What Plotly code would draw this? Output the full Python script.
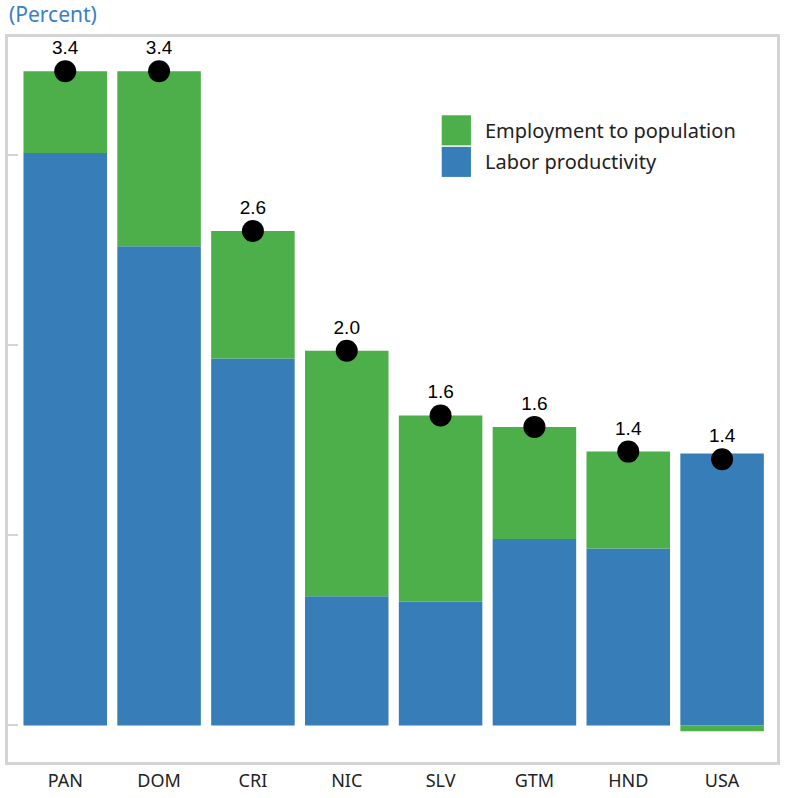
import plotly.graph_objects as go

# Contributions to growth (percent) by country
countries = ["PAN", "DOM", "CRI", "NIC", "SLV", "GTM", "HND", "USA"]
labor_productivity = [3.01, 2.52, 1.93, 0.68, 0.65, 0.98, 0.93, 1.43]
employment_to_population = [0.43, 0.92, 0.67, 1.29, 0.98, 0.59, 0.51, -0.03]
totals = [round(a + b, 3) for a, b in zip(labor_productivity, employment_to_population)]

GREEN = "#4daf4a"
BLUE = "#377eb8"
FRAME = "#d4d4d4"

fig = go.Figure()
fig.add_trace(go.Bar(
    x=countries, y=labor_productivity, name="Labor productivity",
    marker=dict(color=BLUE, line=dict(width=0)), width=0.89, showlegend=False,
))
fig.add_trace(go.Bar(
    x=countries, y=employment_to_population, name="Employment to population",
    marker=dict(color=GREEN, line=dict(width=0)), width=0.89, showlegend=False,
))
# Total growth: black dot plus value label
fig.add_trace(go.Scatter(
    x=countries, y=totals, mode="markers",
    marker=dict(color="black", size=22),
    showlegend=False, cliponaxis=False,
))
fig.add_trace(go.Scatter(
    x=countries, y=totals, mode="markers+text",
    marker=dict(color="rgba(0,0,0,0)", size=18),
    text=[f"{v:.1f}" for v in totals], textposition="top center",
    textfont=dict(family="Liberation Sans, Arial", size=19, color="black"),
    showlegend=False, cliponaxis=False, hoverinfo="skip",
))

# Legend drawn as swatches with labels
legend_items = [("Employment to population", GREEN), ("Labor productivity", BLUE)]
for i, (label, color) in enumerate(legend_items):
    y_top = 0.892 - i * 0.0435
    fig.add_shape(type="rect", xref="paper", yref="paper",
                  x0=0.564, x1=0.602, y0=y_top - 0.0415, y1=y_top,
                  fillcolor=color, line=dict(width=0))
    fig.add_annotation(xref="paper", yref="paper", x=0.618, y=y_top - 0.0207,
                       text=label, showarrow=False, xanchor="left", yanchor="middle",
                       font=dict(family="Noto Sans", size=20, color="#222222"))

fig.add_annotation(xref="paper", yref="paper", x=-0.001, y=1.032, text="(Percent)",
                   showarrow=False, xanchor="left", yanchor="middle",
                   font=dict(family="Noto Sans", size=21, color="#3a80c4"))

fig.update_layout(
    width=786, height=798,
    margin=dict(l=8, r=6, t=37, b=35),
    barmode="relative", bargap=0.11,
    paper_bgcolor="white", plot_bgcolor="white",
    showlegend=False,
)
fig.update_xaxes(
    range=[-0.61, 7.585], showgrid=False, zeroline=False,
    showline=True, linecolor=FRAME, linewidth=3, mirror=True,
    ticks="", tickfont=dict(family="Noto Sans", size=18, color="#222222"),
)
fig.update_yaxes(
    range=[-0.192, 3.62], tickvals=[0, 1, 2, 3], showticklabels=False,
    showgrid=False, zeroline=False,
    showline=True, linecolor=FRAME, linewidth=3, mirror=True,
    ticks="inside", ticklen=10, tickwidth=2, tickcolor=FRAME,
)

fig.write_html("out.html")
